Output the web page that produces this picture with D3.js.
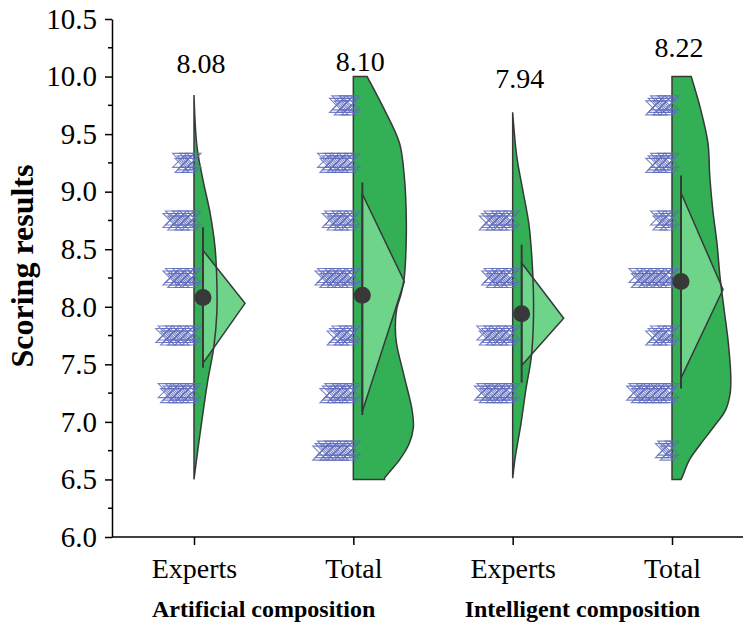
<!DOCTYPE html>
<meta charset="utf-8">
<style>
html,
body {
    margin: 0;
    padding: 0;
    overflow: hidden;
    background: #fff;
}

svg text {
    font-family: "Liberation Serif", "Times New Roman", serif;
    fill: #000;
}
</style>
<svg width="743" height="628"></svg>
<script src="https://d3js.org/d3.v7.min.js"></script>
<script>
// categories on the x axis and the two groups below them
var categories = ["Artificial Experts", "Artificial Total", "Intelligent Experts", "Intelligent Total"];
var tickLabels = ["Experts", "Total", "Experts", "Total"];
var groupLabels = ["Artificial composition", "Intelligent composition"];

// mean values (dot + label above the violin) and where the label sits
var means = [8.08, 8.10, 7.94, 8.22];
var meanLabelAt = [10.03, 10.05, 9.90, 10.17];

// whisker = mean +/- sd, triangle = box range with its tip
var whiskerLow = [7.47, 7.06, 7.34, 7.29];
var whiskerHigh = [8.69, 9.08, 8.54, 9.14];
var boxLow = [7.51, 7.09, 7.49, 7.38];
var boxHigh = [8.49, 8.98, 8.38, 8.99];
var boxTip = [8.03, 8.22, 7.90, 8.15];

// half violin density profiles: [score, density]
var density1 = [[9.84, 0], [9.39, 0.05], [9.10, 0.15], [8.81, 0.27], [8.52, 0.35], [8.23, 0.38],
    [7.94, 0.38], [7.65, 0.33], [7.36, 0.23], [7.08, 0.15], [6.78, 0.07], [6.5, 0]];
var density2 = [[10.0, 0.23], [9.71, 0.52], [9.42, 0.77], [9.13, 0.85], [8.84, 0.88], [8.55, 0.88],
    [8.26, 0.85], [8.12, 0.80], [7.97, 0.72], [7.82, 0.70], [7.68, 0.72], [7.39, 0.85], [7.10, 0.98],
    [6.95, 1.0], [6.81, 0.93], [6.67, 0.77], [6.51, 0.52], [6.5, 0.52]];
var density3 = [[9.69, 0], [9.30, 0.07], [9.01, 0.17], [8.72, 0.27], [8.43, 0.32], [8.14, 0.345],
    [7.86, 0.345], [7.56, 0.31], [7.28, 0.22], [6.99, 0.14], [6.70, 0.045], [6.51, 0]];
var density4 = [[10.0, 0.32], [9.71, 0.48], [9.42, 0.60], [9.13, 0.63], [8.84, 0.68], [8.55, 0.75],
    [8.26, 0.80], [7.97, 0.87], [7.68, 0.94], [7.39, 0.98], [7.25, 0.97], [7.10, 0.89], [6.96, 0.70],
    [6.81, 0.48], [6.67, 0.29], [6.52, 0.17], [6.5, 0.15]];

// individual scores: [score, how many]
var points1 = [[9.25, 7], [8.75, 11], [8.25, 11], [7.75, 14], [7.25, 13]];
var points2 = [[9.75, 8], [9.25, 13], [8.75, 11], [8.25, 14], [7.75, 9], [7.25, 12], [6.75, 15]];
var points3 = [[8.75, 12], [8.25, 11], [7.75, 13], [7.25, 14]];
var points4 = [[9.75, 9], [9.25, 9], [8.75, 7], [8.25, 16], [7.75, 9], [7.25, 17], [6.75, 5]];

var yTicks = [6.0, 6.5, 7.0, 7.5, 8.0, 8.5, 9.0, 9.5, 10.0, 10.5];

var densities = [density1, density2, density3, density4];
var pointSets = [points1, points2, points3, points4];

var svg = d3.select("svg");

var y = d3.scaleLinear().domain([6, 10.5]).range([537, 19]);
var x = d3.scalePoint().domain(categories).range([194, 672]);
var w = d3.scaleLinear().domain([0, 1]).range([0, 60]);

var violinColor = "#33b055";
var boxColor = "#6dd48a";
var lineColor = "#383838";
var markColor = "#5f6cbd";

// axes
var yAxis = svg.append("g")
    .attr("transform", "translate(112,0)")
    .call(d3.axisLeft(y).tickValues(yTicks).tickFormat(d3.format(".1f"))
        .tickSize(7).tickSizeOuter(0).tickPadding(8));
yAxis.selectAll("text").style("font-size", "29px");
yAxis.selectAll("line, path").attr("stroke", "#000").attr("stroke-width", 1.5);

var minor = yTicks.slice(0, -1).map(function(d) { return d + 0.25; });
svg.append("g").selectAll("line")
    .data(minor)
    .enter().append("line")
    .attr("x1", 108).attr("x2", 112)
    .attr("y1", function(d) { return y(d); })
    .attr("y2", function(d) { return y(d); })
    .attr("stroke", "#000").attr("stroke-width", 1.5);

var xAxis = svg.append("g")
    .attr("transform", "translate(0,537)")
    .call(d3.axisBottom(x).tickSize(8).tickPadding(13)
        .tickFormat(function(d, i) { return tickLabels[i]; }));
xAxis.select(".domain").remove();
xAxis.selectAll("text").style("font-size", "28px");
xAxis.selectAll("line").attr("stroke", "#000").attr("stroke-width", 1.5);
svg.append("line")
    .attr("x1", 112).attr("x2", 743)
    .attr("y1", 537).attr("y2", 537)
    .attr("stroke", "#000").attr("stroke-width", 1.5);

svg.append("text")
    .attr("transform", "translate(33,266) rotate(-90)")
    .attr("text-anchor", "middle")
    .style("font-size", "32px")
    .style("font-weight", "bold")
    .text("Scoring results");

svg.selectAll(".group-label")
    .data(groupLabels)
    .enter().append("text")
    .attr("class", "group-label")
    .attr("x", function(d, i) { return (x(categories[i * 2]) + x(categories[i * 2 + 1])) / 2 - 10; })
    .attr("y", 617)
    .attr("text-anchor", "middle")
    .style("font-size", "24px")
    .style("font-weight", "bold")
    .text(function(d) { return d; });

// half violins
var area = d3.area()
    .y(function(d) { return y(d[0]); })
    .curve(d3.curveCatmullRom);

function violinPath(c, i) {
    var base = x(c);
    return area.x0(base).x1(function(d) { return base + w(d[1]); })(densities[i]);
}

var violins = svg.append("g").selectAll("g")
    .data(categories)
    .enter().append("g");

violins.append("path")
    .attr("d", violinPath)
    .attr("fill", violinColor)
    .attr("stroke", "none");

// triangle box
violins.append("path")
    .attr("d", function(c, i) {
        var left = x(c) + 9;
        return "M" + left + "," + y(boxHigh[i]) +
            "L" + (left + 42) + "," + y(boxTip[i]) +
            "L" + left + "," + y(boxLow[i]) + "Z";
    })
    .attr("fill", boxColor)
    .attr("stroke", lineColor)
    .attr("stroke-width", 1.5);

violins.append("path")
    .attr("d", violinPath)
    .attr("fill", "none")
    .attr("stroke", lineColor)
    .attr("stroke-width", 1.5);

violins.append("line")
    .attr("x1", function(c) { return x(c) + 9; })
    .attr("x2", function(c) { return x(c) + 9; })
    .attr("y1", function(c, i) { return y(whiskerLow[i]); })
    .attr("y2", function(c, i) { return y(whiskerHigh[i]); })
    .attr("stroke", lineColor)
    .attr("stroke-width", 2);

// scatter of scores, stacked leftwards from the violin edge
var hourglass = "M-7,-7L7,-7L-7,7L7,7Z";
violins.each(function(c, i) {
    var g = d3.select(this);
    var base = x(c);
    pointSets[i].forEach(function(p) {
        d3.range(p[1]).forEach(function(k) {
            g.append("path")
                .attr("d", hourglass)
                .attr("transform", "translate(" + (base - k * 2.4) + "," + (y(p[0]) + ((k % 3) - 1) * 2.5) + ")")
                .attr("fill", "none")
                .attr("stroke", markColor)
                .attr("stroke-width", 1.1)
                .attr("stroke-opacity", 0.85);
        });
    });
});

violins.append("circle")
    .attr("cx", function(c) { return x(c) + 9; })
    .attr("cy", function(c, i) { return y(means[i]); })
    .attr("r", 8.5)
    .attr("fill", lineColor);

violins.append("text")
    .attr("x", function(c) { return x(c) + 7; })
    .attr("y", function(c, i) { return y(meanLabelAt[i]); })
    .attr("text-anchor", "middle")
    .style("font-size", "28px")
    .text(function(c, i) { return means[i].toFixed(2); });
</script>
